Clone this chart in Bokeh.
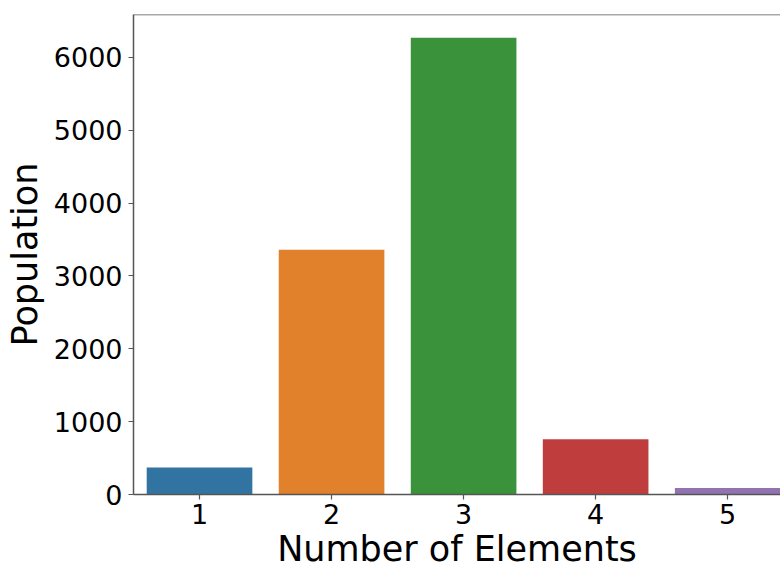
from bokeh.plotting import figure
from bokeh.models import ColumnDataSource, Range1d, FixedTicker, Span
from bokeh.embed import file_html
from bokeh.resources import INLINE

categories = [1, 2, 3, 4, 5]
population = [370, 3360, 6270, 760, 90]
colors = ["#3274a1", "#e1812c", "#3a923a", "#c03d3e", "#9372b2"]
y_ticks = [0, 1000, 2000, 3000, 4000, 5000, 6000]

source = ColumnDataSource(dict(x=categories, top=population, color=colors))

p = figure(width=780, height=571, output_backend="svg", toolbar_location=None,
           x_range=Range1d(0.5, 5.4), y_range=Range1d(0, 6590),
           min_border_left=133, min_border_top=14, min_border_right=0,
           min_border_bottom=76)

p.vbar(x="x", top="top", width=0.8, color="color", source=source, line_color=None)

p.outline_line_color = None
p.grid.visible = False
p.background_fill_color = "white"

spine = "#555555"
top_spine = Span(location=6590, dimension="width", line_color=spine, line_width=1.5)
p.add_layout(top_spine)

for ax in (p.xaxis[0], p.yaxis[0]):
    ax.axis_line_color = spine
    ax.axis_line_width = 1.5
    ax.major_tick_line_color = spine
    ax.major_tick_line_width = 1.2
    ax.major_tick_out = 5
    ax.major_tick_in = 0
    ax.minor_tick_line_color = None
    ax.major_label_text_font = "DejaVu Sans"
    ax.major_label_text_font_size = "27px"
    ax.major_label_text_color = "black"
    ax.axis_label_text_font = "DejaVu Sans"
    ax.axis_label_text_font_size = "35px"
    ax.axis_label_text_font_style = "normal"
    ax.axis_label_text_color = "black"

p.xaxis.ticker = FixedTicker(ticks=categories)
p.yaxis.ticker = FixedTicker(ticks=y_ticks)
p.xaxis.axis_label = "Number of Elements"
p.yaxis.axis_label = "Population"
p.xaxis.major_label_standoff = 4
p.xaxis.axis_label_standoff = 2
p.yaxis.major_label_standoff = 6
p.yaxis.axis_label_standoff = 6

open("out.html", "w").write(file_html(p, INLINE))
